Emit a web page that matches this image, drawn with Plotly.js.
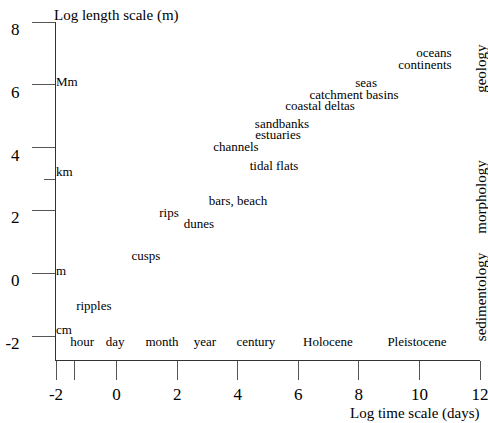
<!DOCTYPE html>
<html><head><meta charset="utf-8">
<script src="https://cdn.plot.ly/plotly-3.0.1.min.js"></script>
<style>html,body{margin:0;padding:0;background:#fff;overflow:hidden}</style>
</head><body><div id="chart" style="width:488px;height:423px"></div>
<script>
// Phenomena: log10 time scale (days) vs log10 length scale (m)
const phenomena = ['oceans','continents','seas','catchment basins','coastal deltas','sandbanks','estuaries','channels','tidal flats','bars, beach','rips','dunes','cusps','ripples'];
const logTime   = [10.48, 10.18, 8.24, 7.84, 6.72, 5.46, 5.33, 3.94, 5.20, 4.01, 1.73, 2.72, 0.97, -0.75];
const logLength = [6.98, 6.60, 6.03, 5.65, 5.30, 4.73, 4.38, 4.00, 3.40, 2.29, 1.90, 1.56, 0.54, -1.08];

// Time unit labels along the bottom
const timeUnits = ['hour','day','month','year','century','Holocene','Pleistocene'];
const timeUnitX = [-1.14, -0.05, 1.50, 2.92, 4.60, 6.98, 9.92];
const timeUnitY = [-2.22, -2.22, -2.22, -2.22, -2.22, -2.22, -2.22];

// Length unit labels along the left axis
const lengthUnits = ['Mm','km','m','cm'];
const lengthUnitX = [-2, -2, -2, -2];
const lengthUnitY = [6.06, 3.21, 0.06, -1.84];

// Discipline labels on the right
const disciplines = ['geology','morphology','sedimentology'];
const disciplineY = [6.51, 2.44, -0.76];

// Axis ticks
const xTickVals = [-2, -1.38, 0, 2, 4, 6, 8, 10, 12];
const xTickText = ['-2', '', '0', '2', '4', '6', '8', '10', '12'];
const yTickVals = [-2, 0, 2, 4, 6, 8];
const yTickText = ['-2', '0', '2', '4', '6', '8'];
const yMinorTicks = [3];

const FONT = 'Liberation Serif';

const traces = [
  {type:'scatter', mode:'text', x:logTime, y:logLength, text:phenomena,
   textposition:'middle center', textfont:{family:FONT, size:13, color:'#000'},
   hoverinfo:'skip', cliponaxis:false, showlegend:false},
  {type:'scatter', mode:'text', x:timeUnitX, y:timeUnitY, text:timeUnits,
   textposition:'middle center', textfont:{family:FONT, size:13, color:'#000'},
   hoverinfo:'skip', cliponaxis:false, showlegend:false},
  {type:'scatter', mode:'text', x:lengthUnitX, y:lengthUnitY, text:lengthUnits,
   textposition:'middle right', textfont:{family:FONT, size:13, color:'#000'},
   hoverinfo:'skip', cliponaxis:false, showlegend:false}
];

const annotations = [
  {text:'Log length scale (m)', xref:'paper', yref:'paper', x:-0.01, y:1.0, yshift:7,
   xanchor:'left', yanchor:'middle', showarrow:false, font:{family:FONT, size:15, color:'#000'}},
  {text:'Log time scale (days)', xref:'paper', yref:'paper', x:1.005, y:0, yshift:-53,
   xanchor:'right', yanchor:'middle', showarrow:false, font:{family:FONT, size:15, color:'#000'}}
];
disciplines.forEach((d, i) => annotations.push({
  text:d, xref:'paper', yref:'y', x:1, xshift:-9, y:disciplineY[i], textangle:-90,
  xanchor:'left', yanchor:'middle', showarrow:false, font:{family:FONT, size:15, color:'#000'}
}));

const layout = {
  width:488, height:423,
  margin:{l:56, r:8, t:22, b:63},
  paper_bgcolor:'#fff', plot_bgcolor:'#fff',
  showlegend:false,
  font:{family:FONT},
  xaxis:{range:[-2,12], showgrid:false, zeroline:false, showline:true, linecolor:'#333', linewidth:1,
         ticks:'outside', ticklen:19, tickcolor:'#555', tickmode:'array', tickvals:xTickVals, ticktext:xTickText,
         ticklabeloverflow:'allow',
         tickfont:{family:FONT, size:17, color:'#000'}, fixedrange:true},
  yaxis:{range:[-2.76,8], showgrid:false, zeroline:false, showline:true, linecolor:'#333', linewidth:1,
         ticks:'outside', ticklen:23, tickcolor:'#555', tickmode:'array', tickvals:yTickVals, ticktext:yTickText,
         ticklabelstandoff:9, ticklabelshift:7, ticklabeloverflow:'allow',
         minor:{tickvals:yMinorTicks, ticks:'outside', ticklen:11, tickcolor:'#555'},
         tickfont:{family:FONT, size:17, color:'#000'}, fixedrange:true},
  annotations:annotations
};

Plotly.newPlot('chart', traces, layout, {displayModeBar:false, staticPlot:true});
</script>
</body></html>
